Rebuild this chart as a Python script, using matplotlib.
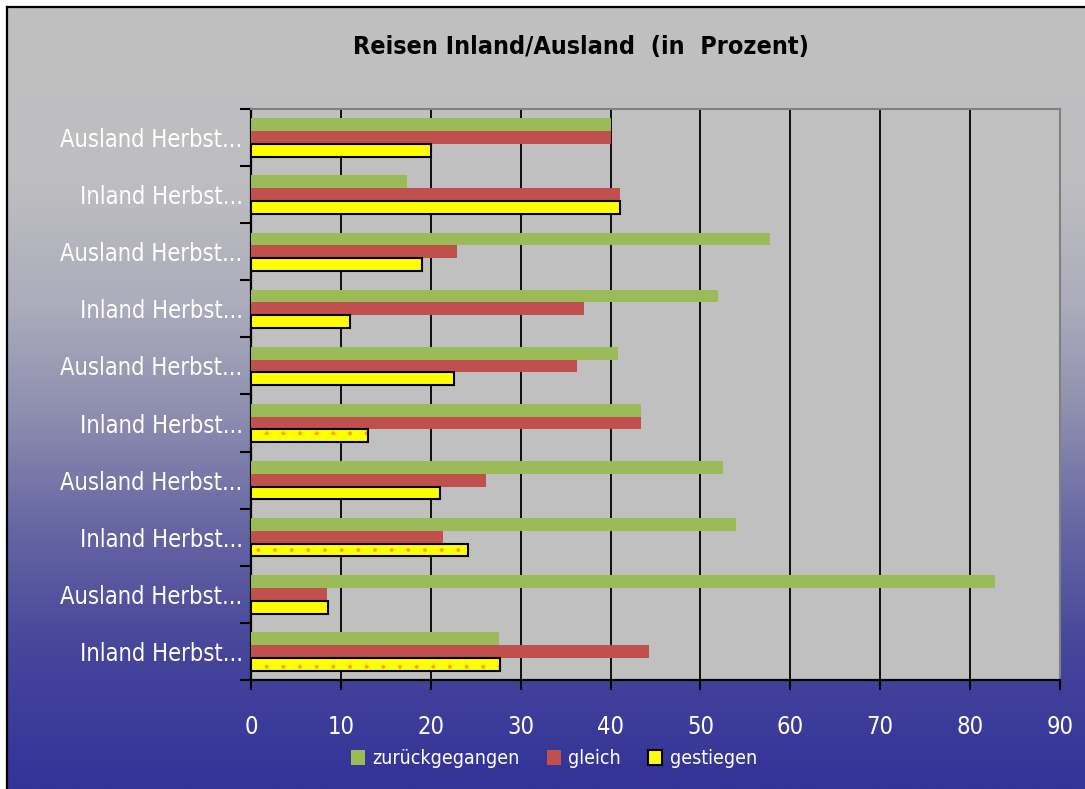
import matplotlib
matplotlib.use("Agg")
import matplotlib.pyplot as plt
import numpy as np
from matplotlib import font_manager
from matplotlib.colors import LinearSegmentedColormap
from matplotlib.patches import Patch
from matplotlib.lines import Line2D

# ---------------- data ----------------
categories = ["Ausland Herbst...", "Inland Herbst...", "Ausland Herbst...", "Inland Herbst...",
              "Ausland Herbst...", "Inland Herbst...", "Ausland Herbst...", "Inland Herbst...",
              "Ausland Herbst...", "Inland Herbst..."]
zurueckgegangen = [40.0, 17.4, 57.7, 51.9, 40.8, 43.4, 52.5, 53.9, 82.8, 27.6]
gleich = [40.0, 41.0, 22.9, 37.0, 36.3, 43.4, 26.1, 21.4, 8.4, 44.3]
gestiegen = [20.0, 41.1, 19.0, 11.0, 22.6, 13.0, 21.0, 24.1, 8.6, 27.7]
dotted = [False, False, False, False, False, True, False, True, False, True]
series_names = ["zurückgegangen", "gleich", "gestiegen"]
x_ticks = [0, 10, 20, 30, 40, 50, 60, 70, 80, 90]
title = "Reisen Inland/Ausland  (in  Prozent)"

# ---------------- fonts ----------------
names = {f.name for f in font_manager.fontManager.ttflist}
if "Liberation Sans Narrow" in names:
    FONT = ["Liberation Sans Narrow", "DejaVu Sans"]
    STRETCH = "normal"
else:
    FONT = ["DejaVu Sans"]
    STRETCH = "condensed"
plt.rcParams["font.family"] = FONT
plt.rcParams["hatch.linewidth"] = 0.4

W, H = 1085, 789
fig = plt.figure(figsize=(W / 100, H / 100), dpi=100, facecolor="white")

# ---------------- gradient background ----------------
bx0 = 7 / W
by1 = 1 - 7 / H
bg = fig.add_axes([bx0, 0, 1 - bx0, by1], zorder=-10)
stops = [(0.0, (192, 192, 192)), (0.22, (190, 190, 193)), (0.38, (172, 172, 188)),
         (0.52, (142, 142, 176)), (0.66, (104, 104, 164)), (0.82, (70, 70, 156)),
         (1.0, (51, 51, 153))]
cmap = LinearSegmentedColormap.from_list("bg", [(p, tuple(c / 255 for c in col)) for p, col in stops])
grad = np.linspace(0, 1, 400).reshape(-1, 1)
bg.imshow(grad, aspect="auto", cmap=cmap, extent=[0, 1, 1, 0])
bg.set_xlim(0, 1)
bg.set_ylim(1, 0)
bg.axis("off")

# black frame (left and top visible)
fig.add_artist(Line2D([bx0, bx0], [0, by1], transform=fig.transFigure, color="black", lw=1.6))
fig.add_artist(Line2D([bx0, 1], [by1, by1], transform=fig.transFigure, color="black", lw=1.6))

# ---------------- main axes ----------------
left, right = 251 / W, 1060 / W
top, bottom = 1 - 109 / H, 1 - 680 / H
ax = fig.add_axes([left, bottom, right - left, top - bottom])
ax.set_facecolor("#c0c0c0")

y = np.arange(len(categories))
h = 0.224
ax.barh(y - h, zurueckgegangen, height=h, color="#9bbb59", zorder=3, linewidth=0)
ax.barh(y, gleich, height=h, color="#c0504d", zorder=3, linewidth=0)
ax.barh(y + h, gestiegen, height=h, color="#ffff00", edgecolor="none", zorder=3, linewidth=0)
for yi, v, d in zip(y, gestiegen, dotted):
    if d:
        ax.barh(yi + h, v, height=h, color="none", edgecolor="#ffa020", hatch=".", linewidth=0, zorder=3.5)
ax.barh(y + h, gestiegen, height=h, color="none", edgecolor="black", linewidth=1.5, zorder=4)

ax.set_xlim(0, 90)
ax.set_ylim(len(categories) - 0.5, -0.5)
ax.set_xticks(x_ticks)
ax.set_xticklabels([str(t) for t in x_ticks])
ax.xaxis.grid(True, color="black", linewidth=1.3, zorder=1)
ax.set_axisbelow(True)

ax.set_yticks(np.arange(len(categories) + 1) - 0.5)
ax.set_yticklabels([])
ax.set_yticks(y, minor=True)
ax.set_yticklabels(categories, minor=True)
ax.tick_params(axis="y", which="major", direction="out", length=8, width=1.5, color="black")
ax.tick_params(axis="y", which="minor", length=0, pad=6, labelsize=17, labelcolor="white")
ax.tick_params(axis="x", which="major", direction="out", length=7, width=1.5, color="black",
               pad=18, labelsize=17, labelcolor="white")
for lab in ax.get_yticklabels(minor=True) + ax.get_xticklabels():
    lab.set_fontstretch(STRETCH)

ax.spines["left"].set_color("black")
ax.spines["left"].set_linewidth(1.6)
ax.spines["bottom"].set_color("black")
ax.spines["bottom"].set_linewidth(1.6)
ax.spines["top"].set_color("#808080")
ax.spines["top"].set_linewidth(1.5)
ax.spines["right"].set_color("#808080")
ax.spines["right"].set_linewidth(1.5)

# ---------------- title ----------------
fig.text(581 / W, 1 - 47 / H, title, ha="center", va="center", fontsize=18,
         fontweight="bold", color="black", fontstretch=STRETCH)

# ---------------- legend ----------------
handles = [Patch(facecolor="#9bbb59", edgecolor="none"),
           Patch(facecolor="#c0504d", edgecolor="none"),
           Patch(facecolor="#ffff00", edgecolor="black", linewidth=1.5)]
leg = fig.legend(handles, series_names, loc="center", bbox_to_anchor=(554 / W, 1 - 759 / H),
                 ncol=3, frameon=False, fontsize=14, handlelength=0.7, handleheight=0.8,
                 handletextpad=0.4, columnspacing=1.4, labelcolor="white")
for t in leg.get_texts():
    t.set_fontstretch(STRETCH)

fig.savefig("out.png", dpi=100, facecolor="white")
